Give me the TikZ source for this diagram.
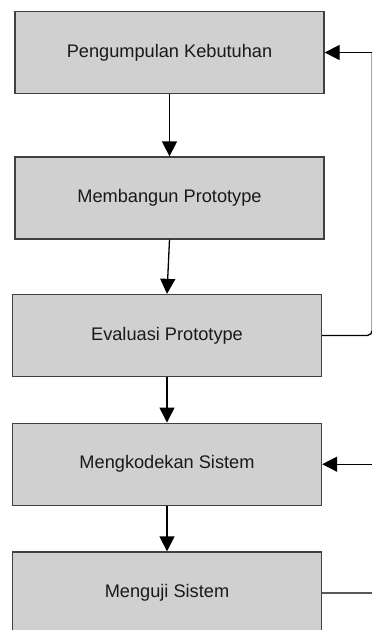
\documentclass[tikz,border=0pt]{standalone}
\usepackage{fontspec}
\setmainfont{Liberation Sans}
\usetikzlibrary{arrows.meta}
\definecolor{boxgray}{RGB}{208,208,208}
\definecolor{edgegray}{RGB}{64,64,64}
\definecolor{textgray}{RGB}{25,25,25}

\begin{document}
\begin{tikzpicture}[x=1pt,y=-1pt,
                      every node/.style={font=\fontsize{18.2}{20}\selectfont,text=textgray},
                      stepbox/.style={draw=edgegray,line width=1.3pt,fill=boxgray,
                                      minimum width=309pt,minimum height=82pt,inner sep=0pt},
                      flow/.style={line width=1.3pt,-{Triangle[length=15pt,width=15pt]}},
                      back/.style={line width=1.3pt,rounded corners=5pt}]
    \useasboundingbox (0,0) rectangle (372,630);
    \clip (0,0) rectangle (372,630);
    \node[stepbox] (kebutuhan) at (169.5,52.5) {Pengumpulan Kebutuhan};
    \node[stepbox] (bangun)    at (169.5,198)  {Membangun Prototype};
    \node[stepbox] (evaluasi)  at (167,335.5)  {Evaluasi Prototype};
    \node[stepbox] (kode)      at (167,464.2)  {Mengkodekan Sistem};
    \node[stepbox] (uji)       at (167,593)    {Menguji Sistem};
    % alur utama
    \draw[flow] (kebutuhan) -- (bangun);
    \draw[flow] (bangun.south) -- (evaluasi.north);
    \draw[flow] (evaluasi) -- (kode);
    \draw[flow] (kode) -- (uji);
    % umpan balik
    \coordinate (atas1)  at (372.2,52.5);
    \coordinate (bawah1) at (372.2,335.5);
    \coordinate (atas2)  at (380,464.2);
    \coordinate (bawah2) at (380,593);
    \draw[back] (evaluasi.east) -- (bawah1) -- (atas1);
    \draw[flow] (atas1) -- (kebutuhan.east);
    \draw[back] (uji.east) -- (bawah2) -- (atas2);
    \draw[flow] (atas2) -- (kode.east);
  \end{tikzpicture}
\end{document}
